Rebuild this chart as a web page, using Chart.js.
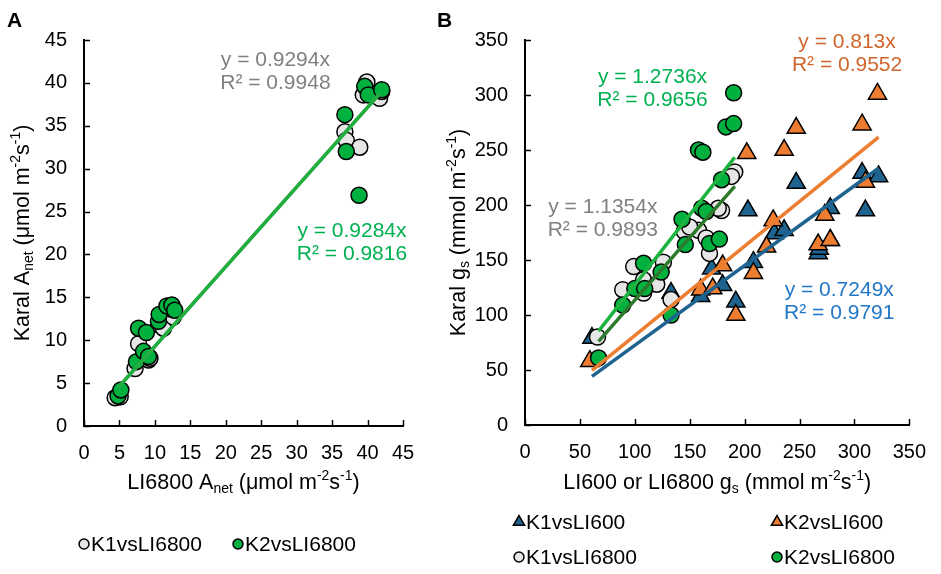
<!DOCTYPE html>
<html>
<head>
<meta charset="utf-8">
<script src="https://cdn.jsdelivr.net/npm/chart.js@4.4.1/dist/chart.umd.min.js"></script>
<style>
  html, body { margin: 0; padding: 0; background: #fff; }
  #wrap { position: relative; width: 941px; height: 574px; overflow: hidden; }
  #chartA { position: absolute; left: 0; top: 0; }
  #chartB { position: absolute; left: 430px; top: 0; }
</style>
</head>
<body>
<div id="wrap">
  <canvas id="chartA" width="440" height="574"></canvas>
  <canvas id="chartB" width="511" height="574"></canvas>
</div>
<script>
// ---- Panel A data: LI6800 Anet vs Karal Anet
const aK1x = [4.4, 5.1, 7.2, 7.7, 9.1, 9.3, 10.6, 11.2, 12.6, 12.4, 36.8, 37.0, 38.9, 39.9, 39.4, 41.7, 42.0];
const aK1y = [3.3, 3.4, 6.7, 9.6, 7.7, 7.9, 11.8, 11.4, 12.7, 13.6, 34.3, 33.3, 32.5, 40.1, 38.6, 38.2, 39.0];
const aK2x = [4.8, 5.2, 7.4, 8.4, 9.1, 7.7, 8.8, 10.5, 10.6, 11.7, 12.4, 12.8, 36.8, 37.0, 38.8, 39.6, 40.1, 42.0];
const aK2y = [3.5, 4.2, 7.5, 8.7, 8.1, 11.4, 10.9, 12.2, 13.0, 14.0, 14.1, 13.5, 36.3, 32.0, 26.9, 39.6, 38.6, 39.2];
const aSlopes = [0.9294, 0.9284];
const aFitRange = [4.85, 41.7];
const aFitText = [["y = 0.9294x", "R² = 0.9948"], ["y = 0.9284x", "R² = 0.9816"]];

// ---- Panel B data: LI600 / LI6800 gs vs Karal gs
const bK1L600x = [61, 133, 160, 170, 180, 192, 203, 208, 227, 236, 247, 267, 268, 278, 278, 307, 310, 322];
const bK1L600y = [79, 120, 117, 142, 127, 112, 195, 148, 174, 177, 220, 156, 160, 168, 197, 229, 195, 226];
const bK2L600x = [59, 160, 171, 180, 192, 202, 208, 220, 226, 236, 247, 267, 273, 278, 307, 310, 321];
const bK2L600y = [58, 123, 124, 145, 100, 247, 138, 162, 186, 250, 270, 164, 191, 168, 273, 221, 301];
const bK1L6800x = [66, 89, 99, 108, 108, 126, 133, 145, 158, 165, 168, 179, 176, 191, 188, 150, 120];
const bK1L6800y = [80, 123, 144, 120, 132, 148, 114, 176, 177, 170, 156, 195, 197, 230, 226, 180, 128];
const bK2L6800x = [67, 89, 100, 108, 109, 124, 133, 143, 146, 158, 162, 161, 165, 168, 177, 179, 183, 190, 190];
const bK2L6800y = [61, 109, 124, 147, 124, 139, 100, 187, 164, 250, 248, 197, 194, 165, 169, 223, 271, 274, 302];
const bSlopes = [0.7249, 0.813, 1.1354, 1.2736];
const bFitRanges = [[61, 322], [61, 322], [67, 191], [67, 191]];
const bFitText = [["y = 0.7249x", "R² = 0.9791"], ["y = 0.813x", "R² = 0.9552"], ["y = 1.1354x", "R² = 0.9893"], ["y = 1.2736x", "R² = 0.9656"]];

const FONT = "'Liberation Sans', Arial, sans-serif";
const BLUE = '#1F6490', ORANGE = '#ED7D31', GREY = '#E7E6E6', GREEN = '#00B140';

function pts(xs, ys) { return xs.map((x, i) => ({x: x, y: ys[i]})); }
function fit(slope, range) { return range.map(x => ({x: x, y: slope * x})); }

// sub/superscript text helper
function richWidth(ctx, parts, size) {
  let w = 0;
  parts.forEach(p => {
    ctx.font = (p.s ? size * 0.65 : size) + 'px ' + FONT;
    w += ctx.measureText(p.t).width;
  });
  return w;
}
function drawRich(ctx, parts, x, y, size, rotate) {
  ctx.save();
  ctx.translate(x, y);
  if (rotate) ctx.rotate(-Math.PI / 2);
  ctx.textBaseline = 'middle';
  ctx.textAlign = 'left';
  ctx.fillStyle = '#000';
  let cx = -richWidth(ctx, parts, size) / 2;
  parts.forEach(p => {
    ctx.font = (p.s ? size * 0.65 : size) + 'px ' + FONT;
    let dy = p.s === 'sup' ? -size * 0.3 : (p.s === 'sub' ? size * 0.3 : 0);
    ctx.fillText(p.t, cx, dy);
    cx += ctx.measureText(p.t).width;
  });
  ctx.restore();
}

function marker(ctx, style, x, y, r, fill) {
  ctx.beginPath();
  if (style === 'triangle') {
    ctx.moveTo(x, y - r);
    ctx.lineTo(x + r * 0.866, y + r / 2);
    ctx.lineTo(x - r * 0.866, y + r / 2);
    ctx.closePath();
  } else {
    ctx.arc(x, y, r, 0, Math.PI * 2);
  }
  ctx.fillStyle = fill;
  ctx.fill();
  ctx.lineWidth = 1.5;
  ctx.strokeStyle = '#000';
  ctx.stroke();
}

// ticks inside, axis titles, fit labels, legend, panel letter
const deco = {
  id: 'deco',
  afterDraw(chart, args, o) {
    const ctx = chart.ctx, ca = chart.chartArea;
    const sx = chart.scales.x, sy = chart.scales.y;
    ctx.save();
    ctx.strokeStyle = '#000';
    ctx.lineWidth = 1.5;
    sx.ticks.forEach(t => {
      const px = Math.round(sx.getPixelForValue(t.value)) + 0.5;
      ctx.beginPath(); ctx.moveTo(px, ca.bottom); ctx.lineTo(px, ca.bottom - 6); ctx.stroke();
    });
    sy.ticks.forEach(t => {
      const py = Math.round(sy.getPixelForValue(t.value)) + 0.5;
      ctx.beginPath(); ctx.moveTo(ca.left, py); ctx.lineTo(ca.left + 6, py); ctx.stroke();
    });

    drawRich(ctx, o.xTitle, (ca.left + ca.right) / 2, o.xTitleY, 21.5, false);
    drawRich(ctx, o.yTitle, o.yTitleX, (ca.top + ca.bottom) / 2, 21.5, true);

    ctx.font = '21px ' + FONT;
    ctx.textAlign = 'center';
    ctx.textBaseline = 'middle';
    o.fitLabels.forEach(l => {
      const px = sx.getPixelForValue(l.x), py = sy.getPixelForValue(l.y);
      ctx.fillStyle = l.color;
      ctx.fillText(l.text[0], px, py - 11.5);
      ctx.fillText(l.text[1], px, py + 11.5);
    });

    const lg = o.legend;
    const items = chart.data.datasets.filter(d => d.inLegend);
    ctx.font = '21px ' + FONT;
    ctx.textAlign = 'left';
    items.forEach((d, i) => {
      const col = i % lg.cols, row = Math.floor(i / lg.cols);
      const x = lg.x + col * lg.colW, y = lg.y + row * lg.rowH;
      marker(ctx, d.pointStyle, x, y, d.pointStyle === 'triangle' ? 6.5 : 5, d.backgroundColor);
      ctx.fillStyle = '#000';
      ctx.fillText(d.label, x + 7, y + 1);
    });

    ctx.font = 'bold 21px ' + FONT;
    ctx.fillStyle = '#000';
    ctx.textBaseline = 'alphabetic';
    ctx.fillText(o.letter, 7, 27);
    ctx.restore();
  }
};

function axis(min, max, step, pad, fitSize, horiz) {
  return {
    type: 'linear', min: min, max: max,
    grid: { display: false, drawTicks: false },
    border: { display: true, color: '#000', width: 2 },
    ticks: { stepSize: step, padding: pad, color: '#000', font: { family: FONT, size: 20 } },
    afterFit(scale) { if (horiz) scale.height = fitSize; else scale.width = fitSize; }
  };
}

function pointSet(label, xs, ys, style, fill, r, order) {
  return {
    type: 'scatter', label: label, data: pts(xs, ys), inLegend: true,
    pointStyle: style, pointRadius: r, pointHoverRadius: r,
    backgroundColor: fill, borderColor: '#000', borderWidth: 1.5, order: order
  };
}
function lineSet(slope, range, color, order) {
  return {
    type: 'line', data: fit(slope, range), borderColor: color, borderWidth: 3.5,
    pointRadius: 0, fill: false, order: order
  };
}

const baseOpts = {
  responsive: false, animation: false, devicePixelRatio: 1,
  plugins: { legend: { display: false }, tooltip: { enabled: false } }
};

new Chart(document.getElementById('chartA'), {
  type: 'scatter',
  data: {
    datasets: [
      lineSet(aSlopes[1], aFitRange, '#1DB03C', 0),
      lineSet(aSlopes[0], aFitRange, '#8C8C8C', 1),
      pointSet('K1vsLI6800', aK1x, aK1y, 'circle', GREY, 8, 3),
      pointSet('K2vsLI6800', aK2x, aK2y, 'circle', GREEN, 8, 2)
    ]
  },
  options: Object.assign({}, baseOpts, {
    layout: { padding: { left: 0, right: 37, top: 40, bottom: 0 } },
    scales: { x: axis(0, 45, 5, 15, 148, true), y: axis(0, 45, 5, 17, 84, false) },
    plugins: Object.assign({}, baseOpts.plugins, {
      deco: {
        letter: 'A', xTitleY: 483, yTitleX: 23,
        xTitle: [{t: 'LI6800 A'}, {t: 'net', s: 'sub'}, {t: ' (μmol m'}, {t: '-2', s: 'sup'}, {t: 's'}, {t: '-1', s: 'sup'}, {t: ')'}],
        yTitle: [{t: 'Karal A'}, {t: 'net', s: 'sub'}, {t: ' (μmol m'}, {t: '-2', s: 'sup'}, {t: 's'}, {t: '-1', s: 'sup'}, {t: ')'}],
        fitLabels: [
          {x: 27.0, y: 41.35, text: aFitText[0], color: '#808080'},
          {x: 37.8, y: 21.4, text: aFitText[1], color: '#00B050'}
        ],
        legend: { x: 84, y: 544, cols: 2, colW: 154, rowH: 35 }
      }
    })
  }),
  plugins: [deco]
});

new Chart(document.getElementById('chartB'), {
  type: 'scatter',
  data: {
    datasets: [
      lineSet(bSlopes[3], bFitRanges[3], '#1DB33F', 0),
      lineSet(bSlopes[2], bFitRanges[2], '#2D7A2D', 1),
      lineSet(bSlopes[1], bFitRanges[1], ORANGE, 2),
      lineSet(bSlopes[0], bFitRanges[0], BLUE, 3),
      pointSet('K1vsLI600', bK1L600x, bK1L600y, 'triangle', BLUE, 10.5, 8),
      pointSet('K2vsLI600', bK2L600x, bK2L600y, 'triangle', ORANGE, 10.5, 7),
      pointSet('K1vsLI6800', bK1L6800x, bK1L6800y, 'circle', GREY, 8, 6),
      pointSet('K2vsLI6800', bK2L6800x, bK2L6800y, 'circle', GREEN, 8, 5)
    ]
  },
  options: Object.assign({}, baseOpts, {
    layout: { padding: { left: 0, right: 21, top: 40, bottom: 0 } },
    scales: { x: axis(0, 350, 50, 15, 149, true), y: axis(0, 350, 50, 17, 95, false) },
    plugins: Object.assign({}, baseOpts.plugins, {
      deco: {
        letter: 'B', xTitleY: 483, yTitleX: 29,
        xTitle: [{t: 'LI600 or LI6800 g'}, {t: 's', s: 'sub'}, {t: ' (mmol m'}, {t: '-2', s: 'sup'}, {t: 's'}, {t: '-1', s: 'sup'}, {t: ')'}],
        yTitle: [{t: 'Karal g'}, {t: 's', s: 'sub'}, {t: ' (mmol m'}, {t: '-2', s: 'sup'}, {t: 's'}, {t: '-1', s: 'sup'}, {t: ')'}],
        fitLabels: [
          {x: 286.2, y: 112.3, text: bFitText[0], color: '#2177C7'},
          {x: 293.3, y: 337.7, text: bFitText[1], color: '#D0652B'},
          {x: 70.9, y: 187.3, text: bFitText[2], color: '#808080'},
          {x: 116.1, y: 305.9, text: bFitText[3], color: '#00B050'}
        ],
        legend: { x: 89, y: 522, cols: 2, colW: 258, rowH: 35 }
      }
    })
  }),
  plugins: [deco]
});
</script>
</body>
</html>
